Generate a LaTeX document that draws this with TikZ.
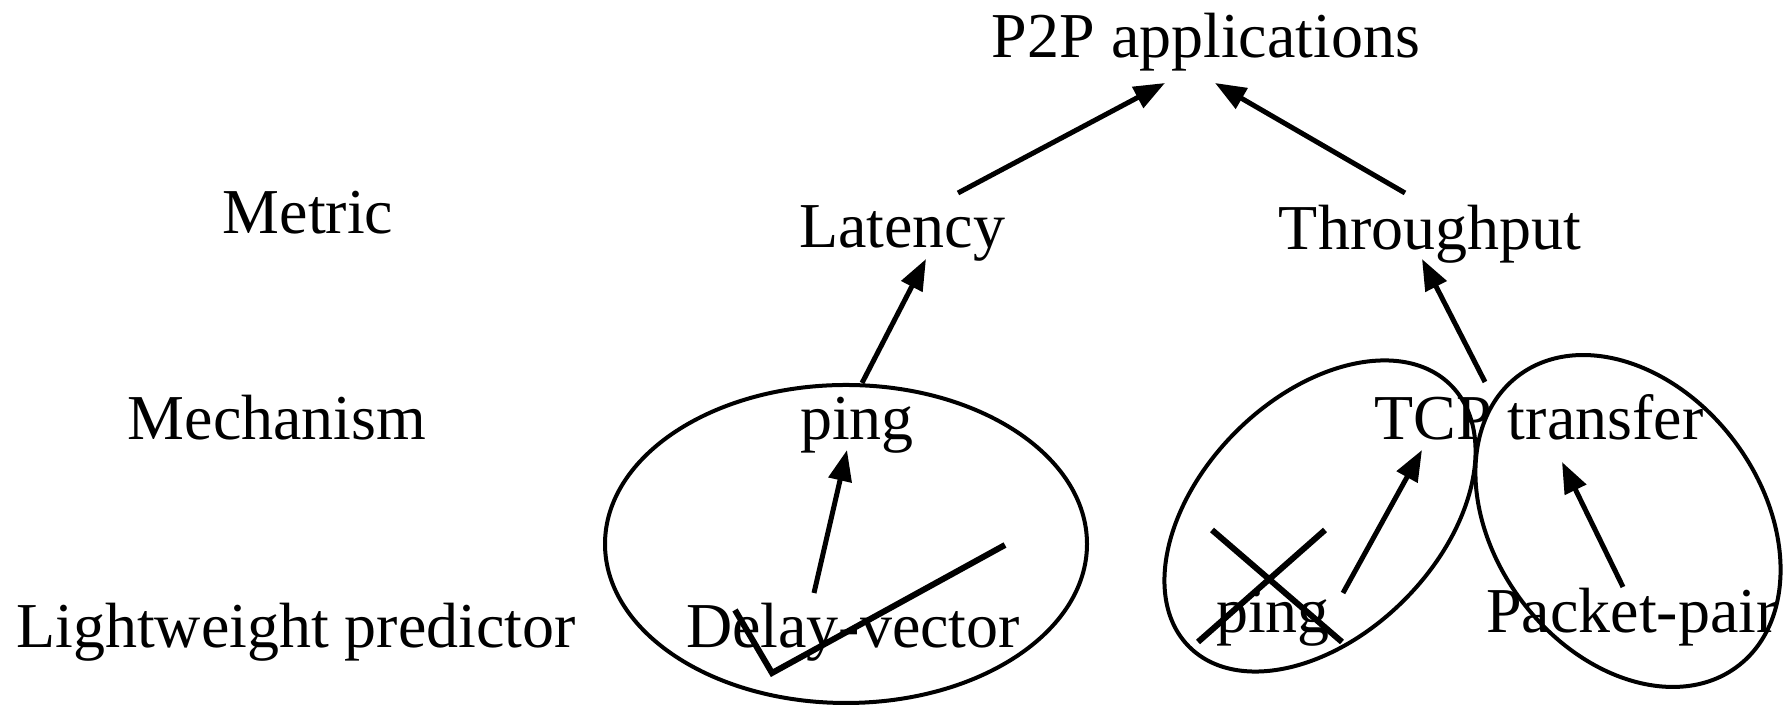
\documentclass[tikz,border=0pt]{standalone}
\usepackage{fontspec}
\setmainfont{Liberation Serif}
\usepackage{tikz}
\usetikzlibrary{arrows.meta}

\begin{document}
\begin{tikzpicture}[>={Triangle[length=3.1mm, width=2.3mm]},
  lbl/.style={inner sep=0pt, anchor=base, font=\fontsize{18.2}{22}\selectfont},
  arr/.style={line width=0.5mm, ->},
  grp/.style={line width=0.4mm},
  strike/.style={line width=0.6mm}]
  \useasboundingbox (0,0) rectangle (17.89,7.08);

  % Row labels
  \node[lbl] (metric) at (3.08, 4.74) {Metric};
  \node[lbl] (mech) at (2.77, 2.68) {Mechanism};
  \node[lbl] (pred) at (2.96, 0.60) {Lightweight predictor};

  % Top and metrics
  \node[lbl] (app) at (12.06, 6.50) {P2P applications};
  \node[lbl] (lat) at (9.02, 4.60) {Latency};
  \node[lbl] (thru) at (14.30, 4.58) {Throughput};

  % Mechanisms
  \node[lbl] (ping) at (8.57, 2.68) {ping};
  \node[lbl] (tcp) at (15.39, 2.68) {TCP transfer};

  % Predictors
  \node[lbl] (dvec) at (8.53, 0.60) {Delay-vector};
  \node[lbl] (pingb) at (12.73, 0.75) {ping};
  \node[lbl] (ppair) at (16.32, 0.75) {Packet-pair};

  % Groups
  \draw[grp] (8.46, 1.64) ellipse [x radius=2.41, y radius=1.59];
  \draw[grp, rotate around={45:(13.20, 1.92)}] (13.20, 1.92) ellipse [x radius=1.85, y radius=1.19];
  \draw[grp, rotate around={-53:(16.28, 1.87)}] (16.28, 1.87) ellipse [x radius=1.82, y radius=1.33];

  \draw[arr] ([shift={(0.56, 0.55)}]lat.base) -- ([shift={(-0.41, -0.25)}]app.base);
  \draw[arr] ([shift={(-0.25, 0.57)}]thru.base) -- ([shift={(0.09, -0.25)}]app.base);
  \draw[arr] ([shift={(0.05, 0.57)}]ping.base) -- ([shift={(0.24, -0.11)}]lat.base);
  \draw[arr] ([shift={(-0.54, 0.58)}]tcp.base) -- ([shift={(-0.08, -0.09)}]thru.base);
  \draw[arr] ([shift={(-0.39, 0.55)}]dvec.base) -- ([shift={(-0.10, -0.10)}]ping.base);
  \draw[arr] ([shift={(0.70, 0.40)}]pingb.base) -- ([shift={(-1.17, -0.10)}]tcp.base);
  \draw[arr] ([shift={(-0.09, 0.46)}]ppair.base) -- ([shift={(0.23, -0.22)}]tcp.base);

  % Struck-out predictors
  \draw[strike] ([shift={(-1.18, 0.38)}]dvec.base) -- ([shift={(-0.81, -0.25)}]dvec.base) -- ([shift={(1.52, 1.03)}]dvec.base);
  \draw[strike] ([shift={(-0.61, 1.03)}]pingb.base) -- ([shift={(0.69, -0.09)}]pingb.base);
  \draw[strike] ([shift={(0.52, 1.03)}]pingb.base) -- ([shift={(-0.75, -0.09)}]pingb.base);
\end{tikzpicture}
\end{document}
